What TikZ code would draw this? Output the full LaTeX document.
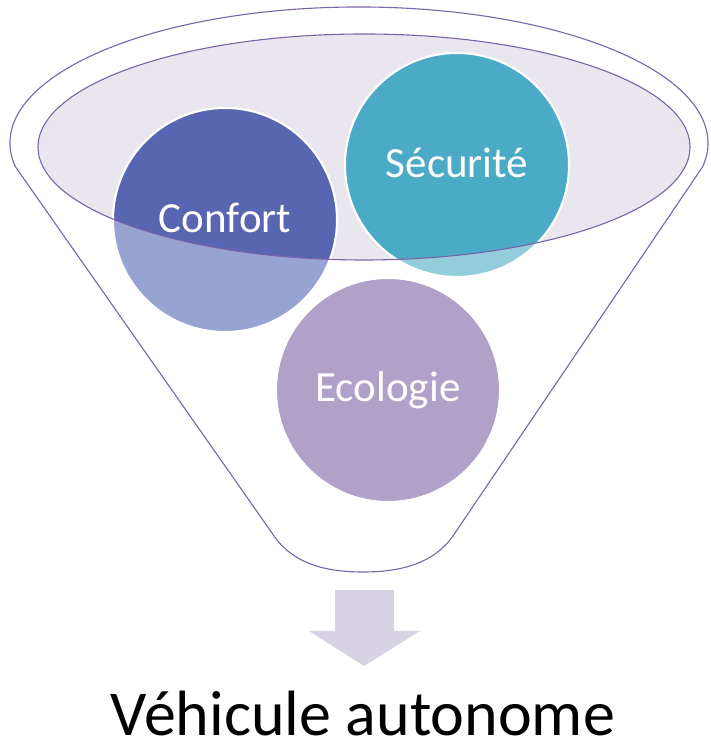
\documentclass[tikz,border=0pt]{standalone}
\usepackage{fontspec}
\setmainfont{Carlito}
\definecolor{funnelline}{HTML}{7A64A8}
\definecolor{bowl}{HTML}{E9E6EF}
\definecolor{confortdark}{HTML}{5865B0}
\definecolor{confortlight}{HTML}{97A3D0}
\definecolor{secudark}{HTML}{4BABC6}
\definecolor{seculight}{HTML}{93CDDC}
\definecolor{ecolo}{HTML}{B0A1C8}
\definecolor{arrowfill}{HTML}{D7D3E2}
\tikzset{
  ball/.style={draw=white, line width=2pt},
  balllabel/.style={text=white, font=\fontsize{43}{50}\selectfont, inner sep=0pt},
  outline/.style={draw=funnelline, line width=1.1pt},
}
\begin{document}
\begin{tikzpicture}[x=1pt,y=1pt]
\useasboundingbox (0,0) rectangle (710,751);
% centres
\coordinate (cC) at (225,531);
\coordinate (cS) at (457,586);
\coordinate (cE) at (388,361);
% funnel body
\path[fill=white] (15.3,584.4) arc[start angle=190, end angle=-10, x radius=349, y radius=136]
  -- (455,218) .. controls (437,190) and (406,179) .. (363,179)
  .. controls (320,179) and (290,190) .. (272,218) -- cycle;
% inner bowl
\fill[bowl] (364,604) ellipse[x radius=326, y radius=113];
% circles (light parts)
\fill[ball, fill=confortlight] (cC) circle[radius=112];
\fill[ball, fill=seculight] (cS) circle[radius=112];
\fill[ball, fill=ecolo] (cE) circle[radius=112];
% dark parts inside the bowl
\begin{scope}
  \clip (364,604) ellipse[x radius=326, y radius=113];
  \fill[ball, fill=confortdark] (cC) circle[radius=112];
  \fill[ball, fill=secudark] (cS) circle[radius=112];
\end{scope}
% outlines
\draw[outline] (364,604) ellipse[x radius=326, y radius=113];
\draw[outline] (15.3,584.4) arc[start angle=190, end angle=-10, x radius=349, y radius=136]
  -- (455,218) .. controls (437,190) and (406,179) .. (363,179)
  .. controls (320,179) and (290,190) .. (272,218) -- cycle;
% arrow
\fill[arrowfill] (335,161) -- (394,161) -- (394,120) -- (420,120) -- (364,85)
  -- (309,120) -- (335,120) -- cycle;
% labels
\node[balllabel] (confort) at (225,533) {Confort};
\node[balllabel] (securite) at (457,588) {Sécurité};
\node[balllabel] (ecologie) at (388,361) {Ecologie};
\node[anchor=base, inner sep=0pt, font=\fontsize{64}{70}\selectfont] (result) at (363,15) {Véhicule autonome};
\end{tikzpicture}
\end{document}
